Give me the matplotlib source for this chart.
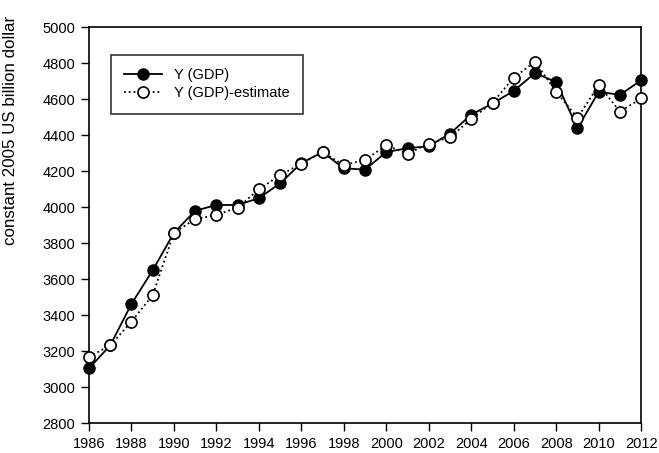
import matplotlib.pyplot as plt
import numpy as np

plt.rcParams['font.family'] = ['Liberation Sans', 'DejaVu Sans']

years = np.arange(1986, 2013)
gdp = [3104, 3232, 3462, 3649, 3857, 3980, 4012, 4012, 4050, 4132,
       4245, 4306, 4215, 4209, 4306, 4328, 4338, 4409, 4514, 4576,
       4646, 4745, 4695, 4439, 4641, 4624, 4705]
gdp_est = [3168, 3232, 3364, 3511, 3857, 3934, 3956, 3998, 4099, 4178,
           4242, 4306, 4233, 4264, 4343, 4297, 4353, 4388, 4490, 4580,
           4720, 4808, 4641, 4496, 4678, 4531, 4604]
xticks = np.arange(1986, 2013, 2)
yticks = np.arange(2800, 5001, 200)

fig = plt.figure(figsize=(6.59, 4.53), dpi=100)
ax = fig.add_axes([0.135, 0.066, 0.838, 0.874])

ax.plot(years, gdp, '-', color='black', lw=1.3, marker='o', ms=8,
        mfc='black', mec='black', label='Y (GDP)', zorder=3, clip_on=False)
ax.plot(years, gdp_est, ':', color='black', lw=1.3, marker='o', ms=8,
        mfc='white', mec='black', mew=1.2, label='Y (GDP)-estimate',
        zorder=4, clip_on=False)

ax.set_xlim(1986, 2012)
ax.set_ylim(2800, 5000)
ax.set_xticks(xticks)
ax.set_yticks(yticks)
ax.tick_params(direction='out', length=6, width=1, labelsize=10.5, top=False, right=False)
ax.tick_params(axis='x', pad=4)
ax.tick_params(axis='y', pad=4)
for s in ax.spines.values():
    s.set_linewidth(1.2)
ax.set_ylabel('constant 2005 US billion dollar', fontsize=12.2)
ax.yaxis.set_label_coords(-0.128, 0.74)

leg = ax.legend(loc='upper left', bbox_to_anchor=(0.04, 0.93), fontsize=10.5,
                frameon=True, fancybox=False, edgecolor='black', handlelength=2.6,
                borderpad=0.9, labelspacing=0.3, borderaxespad=0)
leg.get_frame().set_linewidth(1.2)

fig.savefig('out.png', dpi=100)
